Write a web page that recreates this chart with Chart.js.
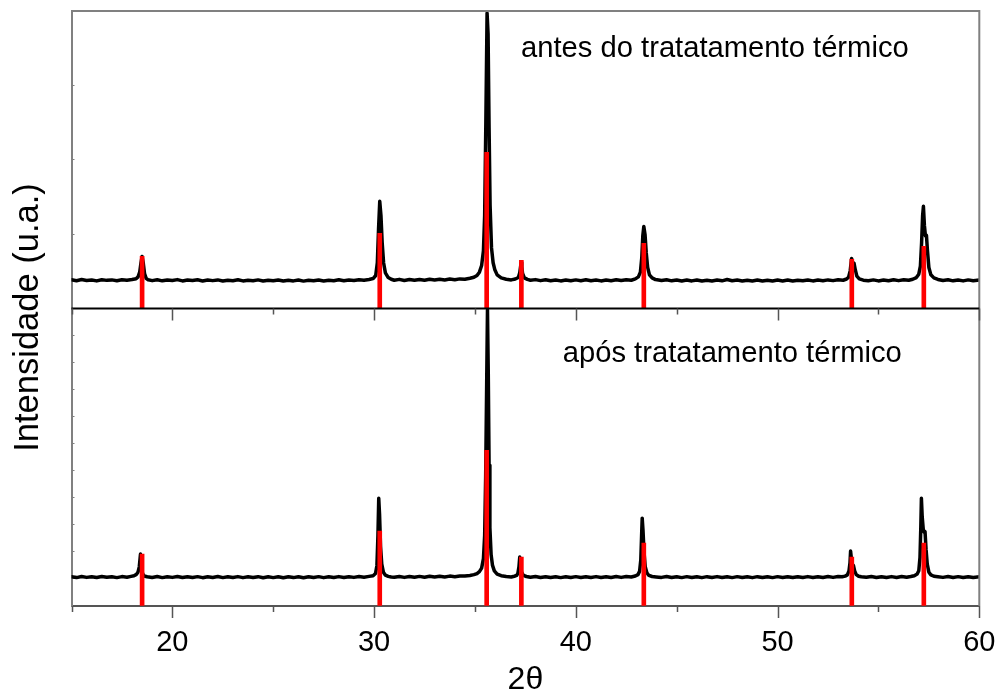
<!DOCTYPE html>
<html>
<head>
<meta charset="utf-8">
<script src="https://cdn.jsdelivr.net/npm/chart.js@4.4.1/dist/chart.umd.min.js"></script>
<style>
  body { margin: 0; background: #fff; }
  #wrap { width: 1002px; height: 697px; position: relative; }
</style>
</head>
<body>
<div id="wrap"><canvas id="xrdChart"></canvas></div>
<script>
// 2theta / counts, sample before heat treatment (upper panel)
const antesTheta = [
    15.0, 15.25, 15.5, 15.75, 16.0, 16.25, 16.5, 16.75, 17.0, 17.25, 17.5, 17.75, 18.0,
    18.2, 18.3, 18.38, 18.44, 18.5, 18.56, 18.62, 18.7, 18.8,
    19.0, 19.25, 19.5, 19.75, 20.0, 20.25, 20.5, 20.75, 21.0, 21.25, 21.5, 21.75,
    22.0, 22.25, 22.5, 22.75, 23.0, 23.25, 23.5, 23.75, 24.0, 24.25, 24.5, 24.75,
    25.0, 25.25, 25.5, 25.75, 26.0, 26.25, 26.5, 26.75, 27.0, 27.25, 27.5, 27.75,
    28.0, 28.25, 28.5, 28.75, 29.0, 29.25, 29.5, 29.75,
    29.95, 30.08, 30.16, 30.22, 30.28, 30.34, 30.4, 30.47, 30.56, 30.7, 30.85,
    31.0, 31.25, 31.5, 31.75, 32.0, 32.25, 32.5, 32.75, 33.0, 33.25, 33.5, 33.75, 34.0, 34.25, 34.5, 34.75,
    34.95, 35.1, 35.22, 35.33, 35.42, 35.48, 35.54, 35.6, 35.65, 35.7, 35.75, 35.82, 35.9, 35.98, 36.1, 36.3, 36.55,
    36.8, 37.0,
    37.15, 37.22, 37.26, 37.29, 37.32, 37.36, 37.45, 37.6,
    37.75, 38.0, 38.25, 38.5, 38.75, 39.0, 39.25, 39.5, 39.75, 40.0, 40.25, 40.5, 40.75,
    41.0, 41.25, 41.5, 41.75, 42.0, 42.25, 42.5, 42.75,
    42.95, 43.1, 43.2, 43.27, 43.32, 43.37, 43.43, 43.49, 43.56, 43.65, 43.78, 43.95,
    44.25, 44.5, 44.75, 45.0, 45.25, 45.5, 45.75, 46.0, 46.25, 46.5, 46.75, 47.0, 47.25, 47.5, 47.75,
    48.0, 48.25, 48.5, 48.75, 49.0, 49.25, 49.5, 49.75, 50.0, 50.25, 50.5, 50.75,
    51.0, 51.25, 51.5, 51.75, 52.0, 52.25, 52.5, 52.75, 53.0, 53.25,
    53.42, 53.52, 53.6, 53.67, 53.73, 53.79, 53.85, 53.93, 54.05,
    54.25, 54.5, 54.75, 55.0, 55.25, 55.5, 55.75, 56.0, 56.25, 56.5, 56.7,
    56.88, 57.0, 57.08, 57.14, 57.19, 57.23, 57.28, 57.33, 57.38, 57.43, 57.5, 57.6, 57.75, 57.95,
    58.2, 58.45, 58.7, 58.95, 59.2, 59.45, 59.7, 60.0
];
const antesCounts = [
    1046, 1032, 1050, 1036, 1044, 1030, 1048, 1038, 1045, 1033, 1047, 1040, 1050,
    1062, 1090, 1160, 1290, 1394, 1290, 1140, 1068, 1046,
    1034, 1047, 1031, 1044, 1036, 1049, 1030, 1043, 1035, 1046, 1029, 1042,
    1034, 1045, 1028, 1041, 1033, 1046, 1030, 1040, 1032, 1045, 1029, 1041,
    1031, 1043, 1028, 1040, 1030, 1044, 1027, 1039, 1031, 1044, 1029, 1041,
    1033, 1046, 1031, 1043, 1036, 1048, 1040, 1052,
    1065, 1110, 1300, 1800, 2212, 2000, 1600, 1300, 1150, 1080, 1055,
    1040, 1053, 1037, 1050, 1039, 1052, 1040, 1054, 1042, 1055, 1044, 1057, 1047, 1060, 1055, 1070,
    1085, 1110, 1160, 1260, 1480, 2000, 3400, 5010, 4700, 3300, 2150, 1520, 1300, 1200, 1120, 1075, 1055,
    1045, 1058,
    1080, 1150, 1240, 1304, 1240, 1140, 1075, 1052,
    1040, 1049, 1034, 1046, 1032, 1044, 1030, 1043, 1031, 1045, 1033, 1046, 1032,
    1044, 1030, 1043, 1033, 1046, 1035, 1048, 1040,
    1060, 1090, 1160, 1380, 1700, 1840, 1720, 1450, 1230, 1120, 1075, 1050,
    1036, 1047, 1031, 1043, 1029, 1042, 1030, 1044, 1028, 1041, 1030, 1043, 1031, 1050, 1033,
    1042, 1029, 1041, 1030, 1043, 1028, 1040, 1029, 1042, 1030, 1043, 1028,
    1041, 1031, 1044, 1030, 1042, 1032, 1045, 1034, 1046, 1040,
    1058, 1085, 1180, 1364, 1300, 1295, 1200, 1100, 1060,
    1041, 1032, 1045, 1030, 1043, 1031, 1046, 1034, 1048, 1040, 1055,
    1080, 1130, 1250, 1600, 2000, 2138, 1850, 1700, 1706, 1480, 1230, 1120, 1075, 1052,
    1036, 1047, 1031, 1044, 1030, 1045, 1033, 1042
];

// 2theta / counts, sample after heat treatment (lower panel)
const aposTheta = [
    15.0, 15.25, 15.5, 15.75, 16.0, 16.25, 16.5, 16.75, 17.0, 17.25, 17.5, 17.75,
    17.95, 18.1, 18.22, 18.3, 18.36, 18.42, 18.47, 18.52, 18.6, 18.75,
    19.0, 19.25, 19.5, 19.75, 20.0, 20.25, 20.5, 20.75, 21.0, 21.25, 21.5, 21.75,
    22.0, 22.25, 22.5, 22.75, 23.0, 23.25, 23.5, 23.75, 24.0, 24.25, 24.5, 24.75,
    25.0, 25.25, 25.5, 25.75, 26.0, 26.25, 26.5, 26.75, 27.0, 27.25, 27.5, 27.75,
    28.0, 28.25, 28.5, 28.75, 29.0, 29.25, 29.5, 29.75,
    29.95, 30.07, 30.14, 30.19, 30.23, 30.27, 30.32, 30.38, 30.46, 30.56, 30.7, 30.85,
    31.0, 31.25, 31.5, 31.75, 32.0, 32.25, 32.5, 32.75, 33.0, 33.25, 33.5, 33.75, 34.0, 34.25, 34.5, 34.75,
    34.95, 35.1, 35.22, 35.33, 35.42, 35.48, 35.53, 35.58, 35.62, 35.66, 35.7, 35.74, 35.8, 35.87, 35.96, 36.1, 36.3, 36.55,
    36.8, 36.95,
    37.07, 37.13, 37.18, 37.22, 37.26, 37.31, 37.4, 37.55,
    37.75, 38.0, 38.25, 38.5, 38.75, 39.0, 39.25, 39.5, 39.75, 40.0, 40.25, 40.5, 40.75,
    41.0, 41.25, 41.5, 41.75, 42.0, 42.25, 42.5, 42.75,
    42.95, 43.08, 43.16, 43.22, 43.26, 43.29, 43.33, 43.38, 43.44, 43.52, 43.62, 43.78, 43.98,
    44.25, 44.5, 44.75, 45.0, 45.25, 45.5, 45.75, 46.0, 46.25, 46.5, 46.75, 47.0, 47.25, 47.5, 47.75,
    48.0, 48.25, 48.5, 48.75, 49.0, 49.25, 49.5, 49.75, 50.0, 50.25, 50.5, 50.75,
    51.0, 51.25, 51.5, 51.75, 52.0, 52.25, 52.5, 52.75, 53.0, 53.2,
    53.35, 53.46, 53.54, 53.59, 53.62, 53.66, 53.71, 53.76, 53.82, 53.9, 54.02, 54.15,
    54.4, 54.65, 54.9, 55.15, 55.4, 55.65, 55.9, 56.15, 56.4, 56.6,
    56.78, 56.92, 57.0, 57.06, 57.1, 57.13, 57.17, 57.22, 57.27, 57.31, 57.36, 57.42, 57.5, 57.6, 57.75, 57.95,
    58.2, 58.45, 58.7, 58.95, 59.2, 59.45, 59.7, 60.0
];
const aposCounts = [
    1080, 1050, 1090, 1058, 1085, 1052, 1088, 1060, 1082, 1050, 1087, 1065,
    1095, 1120, 1170, 1260, 1450, 1919, 1500, 1200, 1110, 1080,
    1055, 1088, 1050, 1085, 1058, 1090, 1052, 1083, 1055, 1086, 1048, 1082,
    1056, 1089, 1050, 1084, 1053, 1087, 1049, 1080, 1052, 1085, 1047, 1081,
    1050, 1084, 1046, 1079, 1050, 1083, 1048, 1080, 1052, 1086, 1049, 1082,
    1054, 1087, 1053, 1085, 1058, 1090, 1065, 1095,
    1120, 1200, 1500, 2600, 3985, 3400, 2200, 1550, 1250, 1140, 1095, 1075,
    1060, 1092, 1058, 1090, 1062, 1095, 1065, 1097, 1070, 1100, 1075, 1105, 1085, 1110, 1110, 1130,
    1160, 1200, 1270, 1400, 1750, 2600, 4800, 8200, 10950, 8600, 5200, 2900, 1900, 1500, 1300, 1180, 1120, 1090,
    1075, 1100,
    1130, 1220, 1450, 1808, 1550, 1250, 1130, 1090,
    1060, 1088, 1055, 1085, 1052, 1083, 1050, 1085, 1053, 1086, 1051, 1084, 1054,
    1087, 1052, 1085, 1056, 1088, 1058, 1090, 1075,
    1110, 1160, 1280, 1700, 2600, 3247, 2800, 2000, 1450, 1230, 1130, 1090, 1075,
    1058, 1089, 1053, 1084, 1050, 1086, 1052, 1083, 1049, 1085, 1053, 1087, 1051, 1084, 1050,
    1086, 1053, 1082, 1049, 1085, 1052, 1083, 1050, 1086, 1054, 1082, 1051,
    1085, 1053, 1087, 1055, 1084, 1052, 1088, 1058, 1090, 1080,
    1105, 1150, 1300, 1600, 2030, 1750, 1540, 1500, 1300, 1160, 1100, 1080,
    1060, 1088, 1054, 1085, 1052, 1087, 1056, 1089, 1062, 1090,
    1120, 1180, 1300, 1800, 2900, 3985, 3300, 2850, 2731, 2750, 2100, 1550, 1250, 1150, 1100, 1080,
    1058, 1088, 1053, 1086, 1051, 1085, 1055, 1080
];

// reference pattern (red sticks) drawn in both panels
const refTheta = [18.5, 30.28, 35.58, 37.3, 43.37, 53.68, 57.25];
const refAntes = [1394, 1736, 2941, 1334, 1587, 1349, 1543];
const refApos = [1919, 2768, 5756, 1808, 2325, 1808, 2325];

// intensity ranges of the two panels
const antesRange = [620, 5040];
const aposRange = [0, 11000];

const FONT = '"Liberation Sans", Arial, sans-serif';

function toPoints(xs, ys) {
    return xs.map((x, i) => ({x: x, y: ys[i]}));
}

function toSticks(xs, ys, base) {
    return xs.map((x, i) => ({x: x, y: [base, ys[i]]}));
}

// frame, divider and x tick marks on the bottom axis and between the panels
const panelFrame = {
    id: 'panelFrame',
    afterDraw(chart) {
        const {ctx, chartArea: area, scales} = chart;
        const xs = scales.x;
        const top = scales.yAntes;
        const bot = scales.yApos;
        ctx.save();
        ctx.lineWidth = 2;
        ctx.strokeStyle = '#808080';
        ctx.beginPath();
        ctx.moveTo(area.left, top.top);
        ctx.lineTo(area.right, top.top);
        ctx.lineTo(area.right, area.bottom);
        ctx.stroke();

        ctx.strokeStyle = '#000';
        ctx.beginPath();
        ctx.moveTo(area.left, bot.top);
        ctx.lineTo(area.right, bot.top);
        ctx.stroke();

        ctx.strokeStyle = '#555';
        ctx.lineWidth = 1.5;
        xs.ticks.forEach(t => {
            const px = Math.round(xs.getPixelForValue(t.value)) + 0.5;
            const len = t.value % 10 === 0 ? 12 : 6;
            ctx.beginPath();
            ctx.moveTo(px, area.bottom);
            ctx.lineTo(px, area.bottom + len);
            ctx.moveTo(px, bot.top);
            ctx.lineTo(px, bot.top + len);
            ctx.stroke();
        });
        ctx.restore();
    }
};

// axis title on the left and the panel captions
const panelText = {
    id: 'panelText',
    afterDraw(chart) {
        const {ctx, scales} = chart;
        const top = scales.yAntes;
        const bot = scales.yApos;
        ctx.save();
        ctx.fillStyle = '#000';
        ctx.font = '34.5px ' + FONT;
        ctx.textAlign = 'center';
        ctx.textBaseline = 'middle';
        ctx.translate(28, (top.top + bot.bottom) / 2 + 9);
        ctx.rotate(-Math.PI / 2);
        ctx.fillText('Intensidade (u.a.)', 0, 0);
        ctx.restore();

        ctx.save();
        ctx.fillStyle = '#000';
        ctx.font = '29.2px ' + FONT;
        ctx.textAlign = 'left';
        ctx.textBaseline = 'alphabetic';
        ctx.fillText('antes do tratatamento térmico', scales.x.getPixelForValue(37.28), top.top + 46);
        ctx.fillText('após tratatamento térmico', scales.x.getPixelForValue(39.35), bot.top + 53);
        ctx.restore();
    }
};

function panelAxis(range) {
    return {
        type: 'linear',
        position: 'left',
        stack: 'xrd',
        stackWeight: 1,
        min: range[0],
        max: range[1],
        ticks: {display: false, stepSize: 1000},
        grid: {drawOnChartArea: false, drawTicks: true, tickLength: -3, color: '#808080', lineWidth: 1},
        border: {color: '#808080', width: 2},
        afterFit: s => { s.width = 71.5; }
    };
}

function patternLine(label, xs, ys, axisId) {
    return {
        label: label,
        data: toPoints(xs, ys),
        yAxisID: axisId,
        borderColor: '#000',
        borderWidth: 3.5,
        borderJoinStyle: 'round',
        borderCapStyle: 'round',
        pointRadius: 0,
        tension: 0,
        order: 1
    };
}

function stickSet(ys, range, axisId) {
    return {
        type: 'bar',
        data: toSticks(refTheta, ys, range[0]),
        yAxisID: axisId,
        backgroundColor: '#ff0000',
        barThickness: 4,
        grouped: false,
        order: 0
    };
}

const ctx = document.getElementById('xrdChart').getContext('2d');
new Chart(ctx, {
    type: 'line',
    data: {
        datasets: [
            stickSet(refAntes, antesRange, 'yAntes'),
            stickSet(refApos, aposRange, 'yApos'),
            patternLine('antes do tratatamento térmico', antesTheta, antesCounts, 'yAntes'),
            patternLine('após tratatamento térmico', aposTheta, aposCounts, 'yApos')
        ]
    },
    options: {
        responsive: true,
        maintainAspectRatio: false,
        animation: false,
        layout: {padding: {top: 11, right: 22.7, left: 0, bottom: 0}},
        plugins: {
            legend: {display: false},
            tooltip: {enabled: false}
        },
        scales: {
            x: {
                type: 'linear',
                position: 'bottom',
                min: 15,
                max: 60,
                offset: false,
                grid: {display: false, offset: false},
                border: {color: '#555', width: 2},
                ticks: {
                    stepSize: 5,
                    autoSkip: false,
                    maxRotation: 0,
                    padding: 12,
                    color: '#000',
                    font: {family: FONT, size: 29},
                    callback: v => (v % 10 === 0 ? String(v) : '')
                },
                title: {
                    display: true,
                    text: '2θ',
                    color: '#000',
                    font: {family: FONT, size: 32, lineHeight: 1},
                    padding: {top: 0, bottom: 1}
                },
                afterFit: s => {
                    s.height = 91;
                    s.paddingLeft = 0;
                    s.paddingRight = 0;
                }
            },
            // the stack is laid out bottom-up, so the lower panel comes first
            yApos: panelAxis(aposRange),
            yAntes: panelAxis(antesRange)
        }
    },
    plugins: [panelFrame, panelText]
});
</script>
</body>
</html>
